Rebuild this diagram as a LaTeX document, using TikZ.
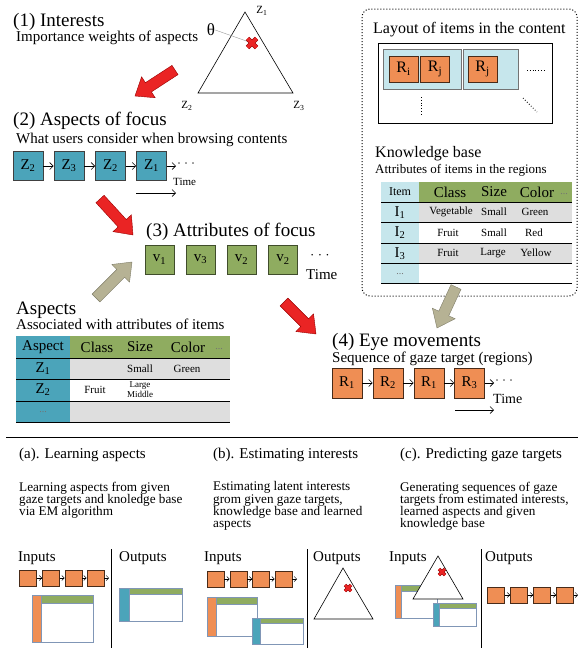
\documentclass[tikz,border=0pt]{standalone}
\usepackage{fontspec}
\setmainfont{Liberation Serif}
\usetikzlibrary{arrows.meta,calc}

\definecolor{aspteal}{RGB}{75,164,186}
\definecolor{attgreen}{RGB}{143,172,96}
\definecolor{gazeorange}{RGB}{239,142,84}
\definecolor{regionblue}{RGB}{198,230,236}
\definecolor{rowgray}{RGB}{222,222,222}
\definecolor{arrowred}{RGB}{234,36,36}
\definecolor{arrowkhaki}{RGB}{182,178,148}
\definecolor{iconedge}{RGB}{128,150,182}

\newcommand\fsz[1]{\fontsize{#1}{#1}\selectfont}

% broad block arrow from tail #1 to tip #2
\newcommand\fatarrow[4]{%
  \coordinate (fa-h) at ($(#2)!16pt!(#1)$);
  \filldraw[fill=#3,draw=#4,line width=0.4pt,line join=miter]
    ($(#1)!5.5pt!90:(#2)$) -- ($(fa-h)!5.5pt!90:(#2)$) -- ($(fa-h)!12.5pt!90:(#2)$)
    -- (#2) -- ($(fa-h)!12.5pt!-90:(#2)$) -- ($(fa-h)!5.5pt!-90:(#2)$)
    -- ($(#1)!5.5pt!-90:(#2)$) -- cycle;}

% red cross marking a point on the simplex
\newcommand\redcross[4]{%
  \draw[red!55!black,line width=#4] ($(#1)+(-#2,-#2)$) -- ($(#1)+(#2,#2)$)
    ($(#1)+(-#2,#2)$) -- ($(#1)+(#2,-#2)$);
  \draw[arrowred,line width=#3] ($(#1)+(-#2,-#2)$) -- ($(#1)+(#2,#2)$)
    ($(#1)+(-#2,#2)$) -- ($(#1)+(#2,-#2)$);}

% small table icon: x0,y0,x1,y1,column edge,header edge,column colour
\newcommand\minitab[7]{%
  \filldraw[fill=white,draw=iconedge,line width=0.8pt] (#5,#2) rectangle (#3,#4);
  \filldraw[fill=attgreen,draw=iconedge,line width=0.8pt] (#5,#2) rectangle (#3,#6);
  \filldraw[fill=#7,draw=iconedge,line width=0.8pt] (#1,#2) rectangle (#5,#4);}

\tikzset{
  head/.style={anchor=base west,inner sep=0pt,font=\fsz{19}},
  subhead/.style={anchor=base west,inner sep=0pt,font=\fsz{15}},
  seqbox/.style={line width=0.8pt,minimum width=30pt,minimum height=29pt,inner sep=0pt,font=\fsz{15}},
  zbox/.style={seqbox,fill=aspteal,draw=black!75},
  vbox/.style={seqbox,fill=attgreen,draw=black!55!attgreen,minimum width=29pt},
  rbox/.style={seqbox,fill=gazeorange,draw=black!70!gazeorange},
  seqarr/.style={-{Straight Barb[length=3.5pt,width=7pt]},line width=0.6pt},
  minibox/.style={fill=gazeorange,draw=black!70!gazeorange,line width=0.7pt,minimum width=17pt,minimum height=16pt,inner sep=0pt},
  miniarr/.style={-{Straight Barb[length=2.5pt,width=5pt]},line width=0.5pt},
  cell/.style={inner sep=0pt,font=\fsz{11}},
  hcell/.style={inner sep=0pt,font=\fsz{15}},
  faint/.style={inner sep=0pt,font=\fsz{10},text=black!55},
  dots/.style={anchor=west,inner sep=0pt,font=\fsz{12}},
  timelbl/.style={anchor=base west,inner sep=0pt},
  body/.style={anchor=north west,inner sep=0pt,align=left,font=\fontsize{13.2}{12.3}\selectfont},
  simplex/.style={line width=0.6pt},
}

\begin{document}
\begin{tikzpicture}[x=1pt,y=-1pt]
\useasboundingbox[fill=white] (0,0) rectangle (580,648);

% ---------- (1) interests ----------
\node[head] (t1) at (13,26) {(1) Interests};
\node[subhead] (s1) at (16,41) {Importance weights of aspects};
\coordinate (za) at (245,12);
\coordinate (zb) at (198,93);
\coordinate (zc) at (293,93);
\draw[simplex] (za) -- (zb) -- (zc) -- cycle;
\node[inner sep=0pt,font=\fsz{11}] (lz1) at (262,11) {Z\textsubscript{1}};
\node[inner sep=0pt,font=\fsz{11}] (lz2) at (187,106) {Z\textsubscript{2}};
\node[inner sep=0pt,font=\fsz{11}] (lz3) at (299,106) {Z\textsubscript{3}};
\node[inner sep=0pt,font=\fsz{17}] (theta) at (211,30) {θ};
\coordinate (thmark) at (252,43);
\draw[black!40,line width=0.4pt] (theta.east) -- (thmark);
\redcross{thmark}{4.5}{3.6pt}{4.8pt}

\coordinate (a1t) at (175,70);
\coordinate (a1h) at (135,96);
\fatarrow{a1t}{a1h}{arrowred}{red!60!black}

% ---------- (2) aspects of focus ----------
\node[head] (t2) at (13,125) {(2) Aspects of focus};
\node[subhead] (s2) at (16,143) {What users consider when browsing contents};
\node[zbox] (za1) at (28,166) {Z\textsubscript{2}};
\node[zbox] (za2) at (69,166) {Z\textsubscript{3}};
\node[zbox] (za3) at (110.5,166) {Z\textsubscript{2}};
\node[zbox] (za4) at (151.5,166) {Z\textsubscript{1}};
\coordinate (zend) at (176,166);
\draw[seqarr] (za1) -- (za2);
\draw[seqarr] (za2) -- (za3);
\draw[seqarr] (za3) -- (za4);
\draw[seqarr] (za4) -- (zend);
\node[dots] (zdots) at (177,165) {· · ·};
\node[timelbl,font=\fsz{11}] (ztime) at (173,185) {Time};
\coordinate (zta) at (136,193);
\coordinate (ztb) at (176,193);
\draw[seqarr] (zta) -- (ztb);

\coordinate (a2t) at (100,199);
\coordinate (a2h) at (133,235);
\fatarrow{a2t}{a2h}{arrowred}{red!60!black}

% ---------- (3) attributes of focus ----------
\node[head] (t3) at (146,236) {(3) Attributes of focus};
\node[vbox] (v1) at (159.5,259.5) {v\textsubscript{1}};
\node[vbox] (v2) at (200.5,259.5) {v\textsubscript{3}};
\node[vbox] (v3) at (241.5,259.5) {v\textsubscript{2}};
\node[vbox] (v4) at (283,259.5) {v\textsubscript{2}};
\node[dots,font=\fsz{13}] (vdots) at (310,257) {· · ·};
\node[timelbl,font=\fsz{15}] (vtime) at (306,279) {Time};

\coordinate (k1t) at (96,298);
\coordinate (k1h) at (132,262);
\fatarrow{k1t}{k1h}{arrowkhaki}{arrowkhaki!70!black}

% ---------- aspects table ----------
\node[head] (ta) at (16,314) {Aspects};
\node[subhead] (sa) at (16,329) {Associated with attributes of items};
\fill[aspteal] (16,336) rectangle (70,422);
\fill[attgreen] (70,336) rectangle (230,358);
\fill[rowgray] (70,358) rectangle (230,379.5);
\fill[rowgray] (70,401) rectangle (230,422);
\foreach \yy in {358,379.5,401,422} \draw[line width=0.8pt] (16,\yy) -- (230,\yy);
\node[hcell] (ah0) at (43,347) {Aspect};
\node[hcell] (ah1) at (97,347) {Class};
\node[hcell] (ah2) at (140,347) {Size};
\node[hcell] (ah3) at (188,347) {Color};
\node[faint] (ah4) at (219,349) {...};
\node[hcell] (ar1) at (43,369) {Z\textsubscript{1}};
\node[cell] (ar1b) at (140,368.5) {Small};
\node[cell] (ar1c) at (187,368.5) {Green};
\node[hcell] (ar2) at (43,390) {Z\textsubscript{2}};
\node[cell] (ar2a) at (95,390) {Fruit};
\node[cell,font=\fsz{9},align=center] (ar2b) at (140,390) {Large\\[1pt]Middle};
\node[faint] (ar3) at (43,412) {...};

\coordinate (a3t) at (284,302);
\coordinate (a3h) at (316,334);
\fatarrow{a3t}{a3h}{arrowred}{red!60!black}

% ---------- layout and knowledge base ----------
\draw[dotted,line width=1pt,rounded corners=8pt] (362,9) rectangle (577,296);
\node[subhead,font=\fsz{16}] (tl) at (373,33) {Layout of items in the content};
\draw[fill=white,line width=0.8pt] (378,43) rectangle (552,123);
\draw[fill=regionblue,draw=black!55,line width=0.8pt] (383,49) rectangle (461,89);
\draw[fill=regionblue,draw=black!55,line width=0.8pt] (463,49) rectangle (518,89);
\node[rbox,minimum width=29pt,minimum height=26pt,font=\fsz{16}] (ri) at (403.5,69) {R\textsubscript{i}};
\node[rbox,minimum width=29pt,minimum height=26pt,font=\fsz{16}] (rj) at (435,69) {R\textsubscript{j}};
\node[rbox,minimum width=29pt,minimum height=26pt,font=\fsz{16}] (rk) at (482.5,69) {R\textsubscript{j}};
\draw[dotted,line width=0.8pt] (527,70) -- (546,70);
\draw[dotted,line width=0.8pt] (421,97) -- (421,115);
\draw[dotted,line width=0.8pt] (523,98) -- (537,112);

\node[subhead,font=\fsz{16}] (tk) at (375,157) {Knowledge base};
\node[subhead,font=\fsz{13}] (sk) at (375,173) {Attributes of items in the regions};
\fill[regionblue] (381,182) rectangle (419,283);
\fill[attgreen] (419,182) rectangle (572,202);
\fill[rowgray] (419,202) rectangle (572,222.5);
\fill[rowgray] (419,243) rectangle (572,263);
\foreach \yy in {202,222.5,243,263,283} \draw[line width=0.8pt] (381,\yy) -- (572,\yy);
\node[cell,font=\fsz{12}] (kh0) at (400,192) {Item};
\node[hcell] (kh1) at (450,192) {Class};
\node[hcell] (kh2) at (494,192) {Size};
\node[hcell] (kh3) at (537,192) {Color};
\node[faint] (kh4) at (564,194) {...};
\node[hcell] (kr1) at (400,212.5) {I\textsubscript{1}};
\node[cell] (kr1a) at (451,212) {Vegetable};
\node[cell] (kr1b) at (494,212) {Small};
\node[cell] (kr1c) at (535,212) {Green};
\node[hcell] (kr2) at (400,233) {I\textsubscript{2}};
\node[cell] (kr2a) at (448,232.5) {Fruit};
\node[cell] (kr2b) at (494,232.5) {Small};
\node[cell] (kr2c) at (534,232.5) {Red};
\node[hcell] (kr3) at (400,253.5) {I\textsubscript{3}};
\node[cell] (kr3a) at (448,253) {Fruit};
\node[cell] (kr3b) at (493,253) {Large};
\node[cell] (kr3c) at (536,253) {Yellow};
\node[faint] (kr4) at (400,274) {...};

\coordinate (k2t) at (456,287);
\coordinate (k2h) at (437,328);
\fatarrow{k2t}{k2h}{arrowkhaki}{arrowkhaki!70!black}

% ---------- (4) eye movements ----------
\node[head] (t4) at (332,346) {(4) Eye movements};
\node[subhead] (s4) at (332,362) {Sequence of gaze target (regions)};
\node[rbox,minimum height=30pt] (r1) at (347,383) {R\textsubscript{1}};
\node[rbox,minimum height=30pt] (r2) at (388,383) {R\textsubscript{2}};
\node[rbox,minimum height=30pt] (r3) at (429,383) {R\textsubscript{1}};
\node[rbox,minimum height=30pt] (r4) at (469.5,383) {R\textsubscript{3}};
\coordinate (rend) at (494,383);
\draw[seqarr] (r1) -- (r2);
\draw[seqarr] (r2) -- (r3);
\draw[seqarr] (r3) -- (r4);
\draw[seqarr] (r4) -- (rend);
\node[dots] (rdots) at (495,382) {· · ·};
\node[timelbl,font=\fsz{14}] (rtime) at (493,403) {Time};
\coordinate (rta) at (455,410);
\coordinate (rtb) at (494,410);
\draw[seqarr] (rta) -- (rtb);

% ---------- lower panel ----------
\coordinate (sepl) at (6,437);
\coordinate (sepr) at (578,437);
\draw[line width=0.8pt] (sepl) -- (sepr);

\node[subhead] (pa) at (19,458.5) {(a). Learning aspects};
\node[subhead] (pb) at (213,458.5) {(b). Estimating interests};
\node[subhead] (pc) at (400,458.5) {(c). Predicting gaze targets};
\node[body] (ba) at (19,481.5) {Learning aspects from given\\gaze targets and knoledge base\\via EM algorithm};
\node[body] (bb) at (213,481.5) {Estimating latent interests\\grom given gaze targets,\\knowledge base and learned\\aspects};
\node[body] (bc) at (400,481.5) {Generating sequences of gaze\\targets from estimated interests,\\learned aspects and given\\knowledge base};

\foreach \xx in {111,307,481} \draw[line width=0.9pt] (\xx,549) -- (\xx,648);

% (a) learning aspects
\node[subhead] (ia) at (18,561.7) {Inputs};
\node[minibox] (ma1) at (28,578) {};
\node[minibox] (ma2) at (51,578) {};
\node[minibox] (ma3) at (73.5,578) {};
\node[minibox] (ma4) at (95.5,578) {};
\coordinate (maend) at (109,578);
\draw[miniarr] (ma1) -- (ma2);
\draw[miniarr] (ma2) -- (ma3);
\draw[miniarr] (ma3) -- (ma4);
\draw[miniarr] (ma4) -- (maend);
\minitab{32}{595}{93}{642}{41}{603}{gazeorange}
\node[subhead] (oa) at (119,561.7) {Outputs};
\minitab{119}{588}{182}{621}{129}{594}{aspteal}

% (b) estimating interests
\node[subhead] (ib) at (204,561.7) {Inputs};
\node[minibox] (mb1) at (215.5,579) {};
\node[minibox] (mb2) at (238.5,579) {};
\node[minibox] (mb3) at (261,579) {};
\node[minibox] (mb4) at (283.5,579) {};
\coordinate (mbend) at (297,579);
\draw[miniarr] (mb1) -- (mb2);
\draw[miniarr] (mb2) -- (mb3);
\draw[miniarr] (mb3) -- (mb4);
\draw[miniarr] (mb4) -- (mbend);
\minitab{207}{597}{257}{636}{216}{604}{gazeorange}
\minitab{252}{618}{303}{644}{260}{623}{aspteal}
\node[subhead] (ob) at (313,561.7) {Outputs};
\coordinate (pba) at (343,568);
\coordinate (pbb) at (314,619);
\coordinate (pbc) at (373,619);
\draw[simplex] (pba) -- (pbb) -- (pbc) -- cycle;
\coordinate (pbx) at (348,588);
\redcross{pbx}{3}{2.3pt}{3.3pt}

% (c) predicting gaze targets
\node[subhead] (ic) at (389,561.7) {Inputs};
\minitab{395}{585}{437}{618}{401}{591}{gazeorange}
\coordinate (pca) at (438,556);
\coordinate (pcb) at (413,599);
\coordinate (pcc) at (463,599);
\filldraw[simplex,fill=white] (pca) -- (pcb) -- (pcc) -- cycle;
\coordinate (pcx) at (442,572);
\redcross{pcx}{3}{2.3pt}{3.3pt}
\minitab{433}{603}{476}{626}{439}{608}{aspteal}
\node[subhead] (oc) at (485,561.7) {Outputs};
\node[minibox] (mc1) at (496,595) {};
\node[minibox] (mc2) at (519,595) {};
\node[minibox] (mc3) at (542,595) {};
\node[minibox] (mc4) at (565,595) {};
\coordinate (mcend) at (578,595);
\draw[miniarr] (mc1) -- (mc2);
\draw[miniarr] (mc2) -- (mc3);
\draw[miniarr] (mc3) -- (mc4);
\draw[miniarr] (mc4) -- (mcend);
\end{tikzpicture}
\end{document}
